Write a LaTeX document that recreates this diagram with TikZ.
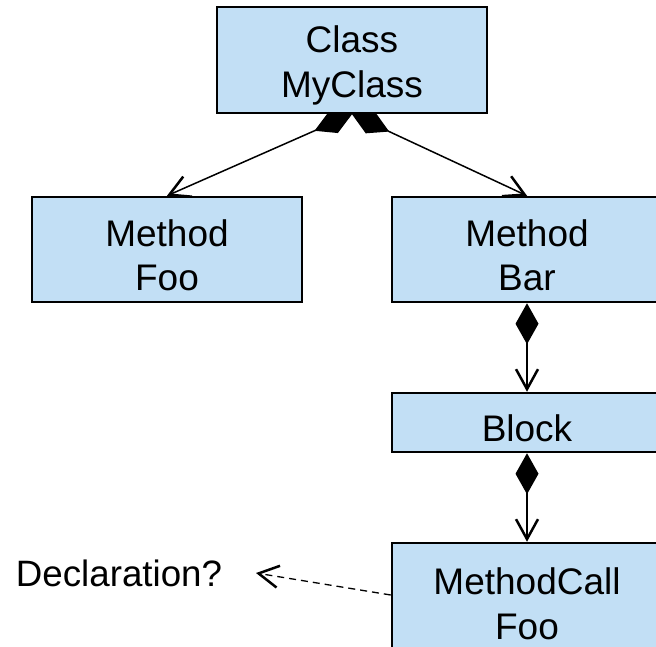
\documentclass[tikz,border=0pt]{standalone}
\usepackage{fontspec}
\setmainfont{Liberation Sans}
\usetikzlibrary{arrows.meta}
\definecolor{boxblue}{RGB}{194,223,245}
\newcommand\myup{\rule{0pt}{38pt}}
\tikzset{
  umlbox/.style={draw=black, line width=2.5pt, fill=boxblue, minimum width=270pt, align=center, inner sep=0pt,
    font=\fontsize{37}{44.5}\selectfont},
  onebox/.style={umlbox, execute at begin node={\rule{0pt}{38pt}}},
  compo/.style={line width=1.5pt, {Diamond[length=41pt,width=23pt]}-{Straight Barb[length=20pt,width=22pt,line width=2.5pt]}},
  dep/.style={line width=1.3pt, dash pattern=on 7pt off 5pt, -{Straight Barb[length=20pt,width=22pt,line width=2.5pt]}},
  plain/.style={font=\fontsize{36.7}{44}\selectfont, inner sep=0pt}
}
\begin{document}
\begin{tikzpicture}[x=1pt,y=-1pt]
\clip (0,0) rectangle (656,646);
\fill[white] (0,0) rectangle (656,646);
\node[umlbox, minimum height=106pt] (cls) at (352,60) {\myup Class\\MyClass};
\node[umlbox, minimum height=105pt] (foo) at (167,249.5) {\myup Method\\Foo};
\node[umlbox, minimum height=105pt] (bar) at (527,249.5) {\myup Method\\Bar};
\node[onebox, minimum height=59pt] (block) at (527,422.5) {Block};
\node[umlbox, minimum height=110pt] (call) at (527,598) {\myup MethodCall\\Foo};
\node[plain] (decl) at (119,573) {Declaration?};
\coordinate (declpt) at (256,573);
\draw[compo] (cls.south) -- (foo.north);
\draw[compo] (cls.south) -- (bar.north);
\draw[compo] (bar.south) -- (block.north);
\draw[compo] (block.south) -- (call.north);
\draw[dep] (call.west) ++(0,-3) -- (declpt);
\end{tikzpicture}
\end{document}
